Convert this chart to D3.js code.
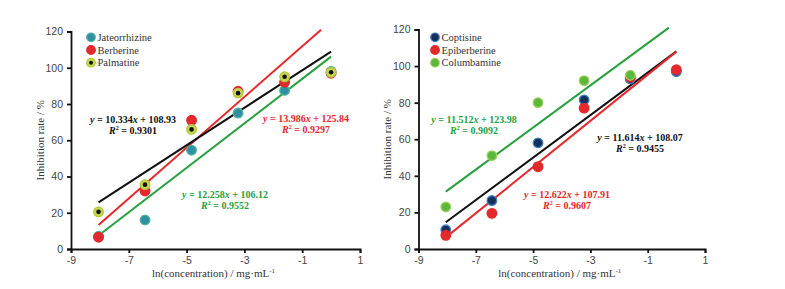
<!DOCTYPE html>
<html>
<head>
<meta charset="utf-8">
<script src="https://cdn.jsdelivr.net/npm/d3@7/dist/d3.min.js"></script>
<style>
  body { margin: 0; background: #fff; }
  svg { display: block; font-family: "Liberation Serif", "DejaVu Serif", serif; }
  .tick text { font-size: 10.5px; fill: #444; }
  .eq { font-size: 10px; font-weight: bold; text-anchor: middle; }
  .lab { font-size: 11px; fill: #333; }
  .leg { font-size: 10.5px; fill: #333; }
</style>
</head>
<body>
<div id="chart"></div>
<script>
// ln(concentration) values shared by both panels
var lnConc = [-8.047, -6.438, -4.828, -3.219, -1.609, 0];
var xTicks = [-9, -7, -5, -3, -1, 1];
var yTicks = [0, 20, 40, 60, 80, 100, 120];

// left panel
var leftNames  = ["Jateorrhizine", "Berberine", "Palmatine"];
var jateorrhizine = [7, 16, 54.5, 75, 87.5, 98];
var berberine     = [6.5, 32, 71, 87, 92, 97];
var palmatine     = [20.5, 35.5, 66, 86, 95, 97.5];
var leftSlopes     = [12.258, 13.986, 10.334];
var leftIntercepts = [106.12, 125.84, 108.93];
var leftR2         = ["0.9552", "0.9297", "0.9301"];

// right panel (last columbamine point is hidden in the source)
var rightNames = ["Coptisine", "Epiberberine", "Columbamine"];
var coptisine    = [10.5, 26.5, 58, 81.5, 93, 97];
var epiberberine = [7.5, 19.5, 45, 77, 94, 98];
var columbamine  = [23, 51, 80, 92, 95, null];
var rightSlopes     = [11.614, 12.622, 11.512];
var rightIntercepts = [108.07, 107.91, 123.98];
var rightR2         = ["0.9455", "0.9607", "0.9092"];

var W = 785, H = 289;
var svg = d3.select("#chart").append("svg").attr("width", W).attr("height", H);

function drawPanel(cfg) {
  var x = d3.scaleLinear().domain([-9, 1]).range([cfg.x0, cfg.x1]);
  var y = d3.scaleLinear().domain([0, 120]).range([cfg.y0, cfg.y1]);
  var g = svg.append("g");

  // regression lines, clipped a little above the top
  cfg.series.forEach(function(s) {
    var xe = Math.min(0, (121 - s.b) / s.m);
    g.append("line")
      .attr("x1", x(lnConc[0])).attr("y1", y(s.m * lnConc[0] + s.b))
      .attr("x2", x(xe)).attr("y2", y(s.m * xe + s.b))
      .attr("stroke", s.lineColor).attr("stroke-width", 2);
  });

  // points
  cfg.order.forEach(function(i) {
    var s = cfg.series[i];
    s.values.forEach(function(v, j) {
      if (v == null) return;
      g.append("circle")
        .attr("cx", x(lnConc[j])).attr("cy", y(v)).attr("r", 4.8)
        .attr("fill", s.fill).attr("stroke", s.ring).attr("stroke-width", 1.3);
      if (s.dot) {
        g.append("circle").attr("cx", x(lnConc[j])).attr("cy", y(v))
          .attr("r", 2.3).attr("fill", s.dot);
      }
    });
  });

  // axes
  var fmt = function(d) { return String(d); };
  var yAxis = g.append("g").attr("transform", "translate(" + cfg.x0 + ",0)")
    .call(d3.axisLeft(y).tickValues(yTicks).tickFormat(fmt).tickSize(4).tickPadding(4));
  var xAxis = g.append("g").attr("transform", "translate(0," + cfg.y0 + ")")
    .call(d3.axisBottom(x).tickValues(xTicks).tickFormat(fmt).tickSize(4).tickPadding(4));
  [xAxis, yAxis].forEach(function(a) {
    a.select(".domain").attr("stroke", "#111").attr("stroke-width", 1.8);
    a.selectAll(".tick line").attr("stroke", "#111").attr("stroke-width", 1.8);
    a.selectAll(".tick text").attr("font-family", null).attr("font-size", null);
  });

  // axis titles
  g.append("text").attr("class", "lab")
    .attr("transform", "translate(" + cfg.yLabX + "," + ((cfg.y0 + cfg.y1) / 2) + ") rotate(-90)")
    .attr("text-anchor", "middle").attr("dy", "0.35em")
    .text("Inhibition rate / %");
  var xl = g.append("text").attr("class", "lab")
    .attr("x", (cfg.x0 + cfg.x1) / 2 - 2).attr("y", 277)
    .attr("text-anchor", "middle");
  xl.append("tspan").text("ln(concentration) / mg·mL");
  xl.append("tspan").attr("dy", -4).attr("font-size", 7).text("-1");

  // legend
  cfg.series.forEach(function(s, i) {
    var ly = cfg.legY + i * 12.7;
    g.append("circle").attr("cx", cfg.legX).attr("cy", ly).attr("r", 4.3)
      .attr("fill", s.fill).attr("stroke", s.ring).attr("stroke-width", 1.2);
    if (s.dot) g.append("circle").attr("cx", cfg.legX).attr("cy", ly).attr("r", 2).attr("fill", s.dot);
    g.append("text").attr("class", "leg").attr("x", cfg.legX + 6.5).attr("y", ly).attr("dy", "0.35em")
      .text(s.name);
  });

  // equations
  cfg.series.forEach(function(s) {
    var t = g.append("text").attr("class", "eq").attr("fill", s.lineColor)
      .attr("x", s.eqX).attr("y", s.eqY);
    t.append("tspan").attr("font-style", "italic").text("y");
    t.append("tspan").text(" = " + s.m.toFixed(3));
    t.append("tspan").attr("font-style", "italic").text("x");
    t.append("tspan").text(" + " + s.b.toFixed(2));
    var r = g.append("text").attr("class", "eq").attr("fill", s.lineColor)
      .attr("x", s.eqX).attr("y", s.eqY + 10.5);
    r.append("tspan").attr("font-style", "italic").text("R");
    r.append("tspan").attr("dy", -4).attr("font-size", 6).text("2");
    r.append("tspan").attr("dy", 4).text(" = " + s.r2);
  });
}

drawPanel({
  x0: 71, x1: 360, y0: 249, y1: 31.5, yLabX: 40, legX: 91, legY: 37.3,
  order: [0, 1, 2],
  series: [
    { name: leftNames[0], values: jateorrhizine, m: leftSlopes[0], b: leftIntercepts[0], r2: leftR2[0],
      fill: "#2f8fa3", ring: "#4fb39a", lineColor: "#25a03c", eqX: 225, eqY: 198 },
    { name: leftNames[1], values: berberine, m: leftSlopes[1], b: leftIntercepts[1], r2: leftR2[1],
      fill: "#e3292b", ring: "#e3292b", lineColor: "#e8262a", eqX: 306, eqY: 122 },
    { name: leftNames[2], values: palmatine, m: leftSlopes[2], b: leftIntercepts[2], r2: leftR2[2],
      fill: "#c8d94e", ring: "#b4c640", dot: "#111", lineColor: "#111", eqX: 133, eqY: 123 }
  ]
});

drawPanel({
  x0: 418.5, x1: 705, y0: 249, y1: 29.5, yLabX: 387, legX: 435, legY: 37.3,
  order: [0, 1, 2],
  series: [
    { name: rightNames[0], values: coptisine, m: rightSlopes[0], b: rightIntercepts[0], r2: rightR2[0],
      fill: "#16305e", ring: "#3f82c4", lineColor: "#111", eqX: 640, eqY: 141 },
    { name: rightNames[1], values: epiberberine, m: rightSlopes[1], b: rightIntercepts[1], r2: rightR2[1],
      fill: "#e3292b", ring: "#e3292b", lineColor: "#e8262a", eqX: 567, eqY: 198 },
    { name: rightNames[2], values: columbamine, m: rightSlopes[2], b: rightIntercepts[2], r2: rightR2[2],
      fill: "#5ab83a", ring: "#9fd05e", lineColor: "#25a03c", eqX: 474, eqY: 123 }
  ]
});
</script>
</body>
</html>
